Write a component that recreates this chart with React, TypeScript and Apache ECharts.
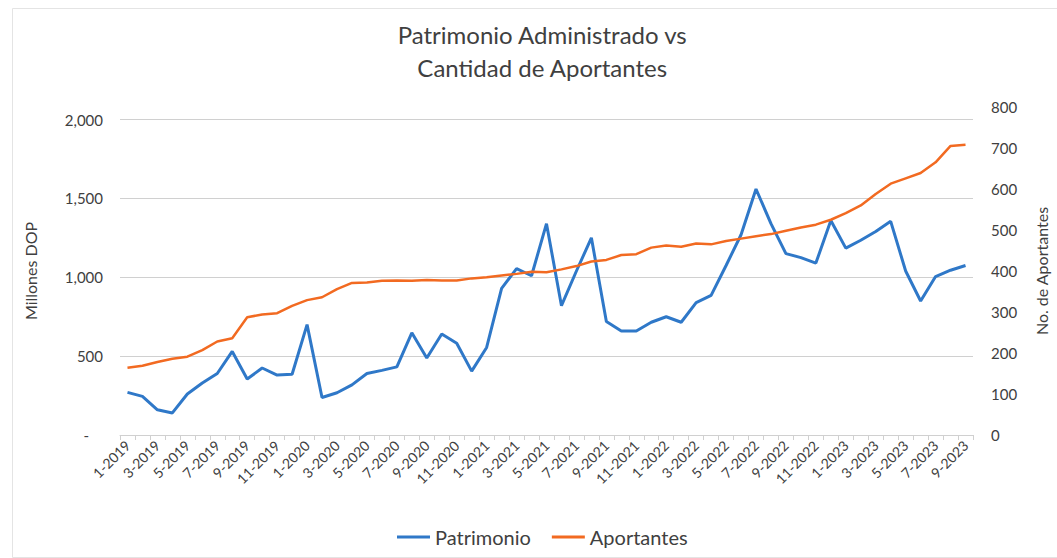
import React, { useEffect, useRef } from "react";
import * as echarts from "echarts";

const categories = [
  "1-2019", "2-2019", "3-2019", "4-2019", "5-2019", "6-2019", "7-2019", "8-2019", "9-2019", "10-2019", "11-2019", "12-2019",
  "1-2020", "2-2020", "3-2020", "4-2020", "5-2020", "6-2020", "7-2020", "8-2020", "9-2020", "10-2020", "11-2020", "12-2020",
  "1-2021", "2-2021", "3-2021", "4-2021", "5-2021", "6-2021", "7-2021", "8-2021", "9-2021", "10-2021", "11-2021", "12-2021",
  "1-2022", "2-2022", "3-2022", "4-2022", "5-2022", "6-2022", "7-2022", "8-2022", "9-2022", "10-2022", "11-2022", "12-2022",
  "1-2023", "2-2023", "3-2023", "4-2023", "5-2023", "6-2023", "7-2023", "8-2023", "9-2023",
];

// Millones DOP (left axis)
const patrimonio = [
  270, 245, 160, 140, 260, 330, 390, 530, 355, 425, 380, 385,
  700, 238, 268, 318, 390, 410, 432, 648, 488, 640, 582, 405,
  555, 930, 1055, 1010, 1340, 820, 1040, 1250, 720, 660, 660, 715,
  750, 715, 840, 885, 1075, 1270, 1560, 1340, 1150, 1125, 1090, 1360,
  1185, 1235, 1290, 1355, 1040, 850, 1005, 1045, 1075,
];

// No. de Aportantes (right axis)
const aportantes = [
  164, 169, 178, 186, 191, 207, 228, 236, 287, 294, 297, 315,
  329, 336, 356, 371, 372, 376, 377, 376, 378, 377, 377, 382,
  385, 389, 393, 398, 397, 404, 412, 423, 427, 439, 441, 457,
  462, 459, 467, 465, 473, 479, 485, 490, 498, 506, 513, 525,
  541, 560, 588, 613, 626, 639, 665, 705, 708,
];

const titleLines = ["Patrimonio Administrado vs", "Cantidad de Aportantes"];
const seriesNames = ["Patrimonio", "Aportantes"];
const leftAxisName = "Millones DOP";
const rightAxisName = "No. de Aportantes";

const FONT = "Lato, 'Open Sans', 'DejaVu Sans', sans-serif";
const TEXT = "#404040";
const BLUE = "#2f78c8";
const ORANGE = "#f26a21";

export default function App() {
  const ref = useRef<HTMLDivElement | null>(null);

  useEffect(() => {
    document.body.style.margin = "0";
    if (!ref.current) return;
    const chart = echarts.init(ref.current, undefined, { renderer: "svg" });
    chart.setOption({
      animation: false,
      backgroundColor: "#ffffff",
      textStyle: { fontFamily: FONT },
      graphic: [
        {
          type: "rect",
          left: 10,
          top: 6,
          silent: true,
          z: -1,
          shape: { width: 1060, height: 549 },
          style: { fill: "none", stroke: "#e4e4e4", lineWidth: 1 },
        },
        {
          type: "text",
          left: 397,
          top: 18,
          style: {
            text: titleLines.join("\n"),
            x: 0,
            textAlign: "center",
            font: `24px ${FONT}`,
            lineHeight: 33,
            fill: "#404040",
          },
        },
      ],
      legend: {
        left: 392,
        top: 522,
        itemWidth: 33,
        itemHeight: 3,
        itemGap: 21,
        icon: "rect",
        textStyle: { fontFamily: FONT, fontSize: 20, color: TEXT },
        data: [
          { name: seriesNames[0], itemStyle: { color: BLUE } },
          { name: seriesNames[1], itemStyle: { color: ORANGE } },
        ],
      },
      grid: { left: 120, right: 82, top: 107, bottom: 123, containLabel: false },
      xAxis: {
        type: "category",
        data: categories,
        boundaryGap: true,
        axisLine: { show: true, lineStyle: { color: "#d0d0d0", width: 1 } },
        axisTick: { show: true, interval: 0, length: 5, lineStyle: { color: "#d0d0d0" } },
        axisLabel: {
          interval: 1,
          rotate: 45,
          margin: 8,
          color: TEXT,
          fontFamily: FONT,
          fontSize: 14,
        },
      },
      yAxis: [
        {
          type: "value",
          min: 0,
          max: 2080,
          interval: 500,
          name: leftAxisName,
          nameLocation: "middle",
          nameRotate: 90,
          nameGap: 82,
          nameTextStyle: { fontFamily: FONT, fontSize: 16, color: TEXT },
          axisLine: { show: false },
          axisTick: { show: false },
          axisLabel: {
            margin: 17,
            color: TEXT,
            fontFamily: FONT,
            fontSize: 15,
            showMaxLabel: false,
            formatter: (v: number) =>
              v === 0 ? "{z|-}" : v.toLocaleString("en-US"),
            rich: { z: { padding: [0, 14, 0, 0], fontSize: 15, color: TEXT, fontFamily: FONT } },
          },
          splitLine: {
            show: true,
            showMaxLine: false,
            showMinLine: false,
            lineStyle: { color: "#d0d0d0", width: 1 },
          },
        },
        {
          type: "value",
          min: 0,
          max: 800,
          interval: 100,
          position: "right",
          name: rightAxisName,
          nameLocation: "middle",
          nameRotate: 90,
          nameGap: 60,
          nameTextStyle: { fontFamily: FONT, fontSize: 16, color: TEXT },
          axisLine: { show: false },
          axisTick: { show: false },
          axisLabel: { margin: 18, color: TEXT, fontFamily: FONT, fontSize: 15 },
          splitLine: { show: false },
        },
      ],
      series: [
        {
          name: seriesNames[0],
          type: "line",
          yAxisIndex: 0,
          data: patrimonio,
          symbol: "none",
          lineStyle: { color: BLUE, width: 3 },
          itemStyle: { color: BLUE },
        },
        {
          name: seriesNames[1],
          type: "line",
          yAxisIndex: 1,
          data: aportantes,
          symbol: "none",
          lineStyle: { color: ORANGE, width: 2.5 },
          itemStyle: { color: ORANGE },
        },
      ],
    });
    return () => chart.dispose();
  }, []);

  return (
    <div
      ref={ref}
      style={{ position: "fixed", left: 0, top: 0, width: 1057, height: 558 }}
    />
  );
}
